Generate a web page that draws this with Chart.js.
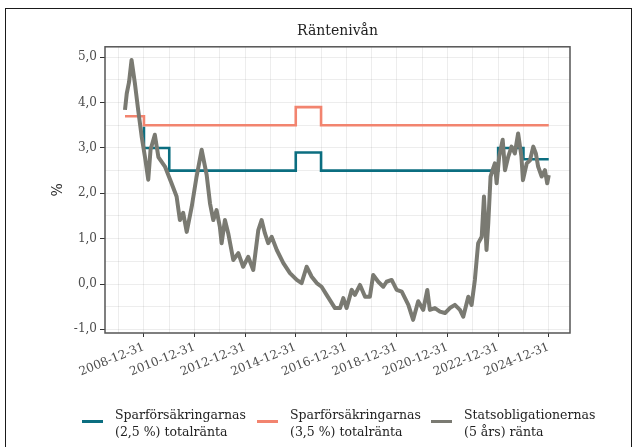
<!DOCTYPE html>
<html>
<head>
<meta charset="utf-8">
<script src="https://cdn.jsdelivr.net/npm/chart.js@4/dist/chart.umd.min.js"></script>
<style>
  html, body { margin: 0; padding: 0; background: #fff; }
  body { width: 634px; height: 447px; position: relative; overflow: hidden; font-family: "DejaVu Serif", serif; }
  #frame { position: absolute; left: 5px; top: 8px; width: 627px; height: 470px; border: 1.5px solid #1a1a1a; box-sizing: border-box; }
  #chart { position: absolute; left: 0; top: 0; }
  .leg { position: absolute; top: 406px; font-size: 12.5px; line-height: 17px; color: #222; }
  .leg-mark { position: absolute; height: 3px; width: 21px; top: 420px; }
</style>
</head>
<body>
<div id="frame"></div>
<canvas id="chart" width="634" height="447"></canvas>

<div class="leg-mark" style="left:82px;background:#0b6e80"></div>
<div class="leg" style="left:115px">Sparförsäkringarnas<br>(2,5 %) totalränta</div>
<div class="leg-mark" style="left:257px;background:#f2846f"></div>
<div class="leg" style="left:290px">Sparförsäkringarnas<br>(3,5 %) totalränta</div>
<div class="leg-mark" style="left:431px;background:#7a7a72"></div>
<div class="leg" style="left:464px">Statsobligationernas<br>(5 års) ränta</div>

<script>
// x = decimal year (2009.0 = 2008-12-31)
const lowYears  = [2009.0, 2009.0, 2010.0, 2015.0, 2016.0, 2023.0, 2024.0, 2025.0];
const lowValues = [3.47,   3.0,    2.5,    2.9,    2.5,    3.0,    2.75,   2.75];

const highYears  = [2008.25, 2009.0, 2015.0, 2016.0, 2025.0];
const highValues = [3.7,     3.5,    3.9,    3.5,    3.5];

const bondYears = [
  2008.25, 2008.32, 2008.41, 2008.51, 2008.64, 2008.77, 2008.91, 2009.04, 2009.17, 2009.26,
  2009.43, 2009.57, 2009.83, 2010.09, 2010.29, 2010.42, 2010.55, 2010.69, 2010.89, 2011.08,
  2011.28, 2011.48, 2011.61, 2011.74, 2011.87, 2012.00, 2012.07, 2012.20, 2012.33, 2012.53,
  2012.73, 2012.92, 2013.12, 2013.32, 2013.52, 2013.65, 2013.78, 2013.91, 2014.05, 2014.25,
  2014.51, 2014.77, 2015.04, 2015.23, 2015.43, 2015.63, 2015.83, 2016.02, 2016.22, 2016.55,
  2016.75, 2016.88, 2017.01, 2017.21, 2017.34, 2017.54, 2017.74, 2017.93, 2018.06, 2018.26,
  2018.46, 2018.59, 2018.79, 2018.99, 2019.19, 2019.45, 2019.64, 2019.84, 2020.04, 2020.20,
  2020.30, 2020.50, 2020.70, 2020.90, 2021.09, 2021.29, 2021.49, 2021.62, 2021.82, 2021.95,
  2022.08, 2022.21, 2022.35, 2022.44, 2022.54, 2022.61, 2022.70, 2022.78, 2022.87, 2022.94,
  2023.04, 2023.18, 2023.27, 2023.40, 2023.53, 2023.66, 2023.79, 2023.92, 2023.98, 2024.13,
  2024.26, 2024.39, 2024.49, 2024.58, 2024.72, 2024.85, 2024.94, 2025.00
];
const bondValues = [
  3.84, 4.20, 4.45, 4.94, 4.43, 3.84, 3.25, 2.80, 2.30, 2.96,
  3.29, 2.80, 2.59, 2.22, 1.93, 1.41, 1.57, 1.15, 1.71, 2.37,
  2.96, 2.40, 1.78, 1.41, 1.63, 1.26, 0.90, 1.41, 1.12, 0.53,
  0.68, 0.38, 0.60, 0.31, 1.19, 1.41, 1.12, 0.90, 1.04, 0.75,
  0.46, 0.24, 0.09, 0.02, 0.38, 0.16, 0.02, -0.06, -0.24, -0.53,
  -0.53, -0.31, -0.53, -0.13, -0.24, -0.02, -0.28, -0.28, 0.20, 0.05,
  -0.06, 0.05, 0.09, -0.13, -0.17, -0.46, -0.79, -0.38, -0.57, -0.13,
  -0.57, -0.53, -0.61, -0.64, -0.53, -0.46, -0.57, -0.72, -0.28, -0.46,
  0.09, 0.90, 1.04, 1.93, 0.75, 1.34, 2.37, 2.51, 2.66, 2.22,
  2.81, 3.18, 2.51, 2.81, 3.03, 2.88, 3.32, 2.81, 2.29, 2.66,
  2.73, 3.03, 2.88, 2.59, 2.37, 2.51, 2.22, 2.40
];

const xTickYears = [2008, 2009, 2010, 2011, 2012, 2013, 2014, 2015, 2016, 2017, 2018, 2019, 2020, 2021, 2022, 2023, 2024, 2025];
const yTickValues = [-1, -0.5, 0, 0.5, 1, 1.5, 2, 2.5, 3, 3.5, 4, 4.5, 5];

const pts = (xs, ys) => xs.map((x, i) => ({ x, y: ys[i] }));
const isMajorX = v => Math.round(v) % 2 === 1;
const isMajorY = v => Number.isInteger(v);

const panelBox = {
  id: 'panelBox',
  afterDraw(chart) {
    const { ctx, chartArea: a } = chart;
    ctx.save();
    ctx.strokeStyle = '#555';
    ctx.lineWidth = 1.5;
    ctx.strokeRect(a.left, a.top, a.right - a.left, a.bottom - a.top);
    ctx.restore();
  }
};

const serif = 'DejaVu Serif';

new Chart(document.getElementById('chart'), {
  type: 'line',
  data: {
    datasets: [
      { data: pts(lowYears, lowValues),   borderColor: '#0b6e80', borderWidth: 2.6, stepped: 'before', pointRadius: 0, order: 1 },
      { data: pts(highYears, highValues), borderColor: '#f2846f', borderWidth: 2.6, stepped: 'before', pointRadius: 0, order: 2 },
      { data: pts(bondYears, bondValues), borderColor: '#7a7a72', borderWidth: 4, pointRadius: 0, tension: 0, order: 0, borderJoinStyle: 'round' },
    ],
  },
  options: {
    responsive: false, animation: false,
    layout: { padding: { left: 40, right: 64, top: 0, bottom: 54 } },
    plugins: {
      legend: { display: false },
      tooltip: { enabled: false },
      title: {
        display: true, text: 'Räntenivån', fullSize: false, color: '#222',
        font: { family: serif, size: 14, weight: 'normal' },
        padding: { top: 23, bottom: 7 },
      },
    },
    scales: {
      x: {
        type: 'linear', min: 2007.46, max: 2025.84,
        afterBuildTicks: s => { s.ticks = xTickYears.map(v => ({ value: v })); },
        afterFit: s => { s.height = 60; },
        grid: {
          color: 'rgba(0,0,0,0.07)', lineWidth: 1, tickLength: 4,
          tickColor: c => (c.tick && isMajorX(c.tick.value)) ? '#333' : 'rgba(0,0,0,0)',
        },
        border: { display: false },
        ticks: {
          autoSkip: false, minRotation: 22, maxRotation: 22, padding: 3, color: '#4d4d4d',
          font: { family: serif, size: 12 },
          callback: v => isMajorX(v) ? `${Math.round(v) - 1}-12-31` : '',
        },
      },
      y: {
        min: -1.08, max: 5.23,
        afterBuildTicks: s => { s.ticks = yTickValues.map(v => ({ value: v })); },
        afterFit: s => { s.width = 65; },
        grid: {
          color: 'rgba(0,0,0,0.07)', lineWidth: 1, tickLength: 5,
          tickColor: c => (c.tick && isMajorY(c.tick.value)) ? '#333' : 'rgba(0,0,0,0)',
        },
        border: { display: false },
        title: { display: true, text: '%', color: '#222', font: { family: serif, size: 14 }, padding: { top: 10, bottom: 0 } },
        ticks: {
          padding: 3, color: '#4d4d4d', font: { family: serif, size: 12 },
          callback: v => isMajorY(v) ? v.toFixed(1).replace('.', ',') : '',
        },
      },
    },
  },
  plugins: [panelBox],
});
</script>
</body>
</html>
